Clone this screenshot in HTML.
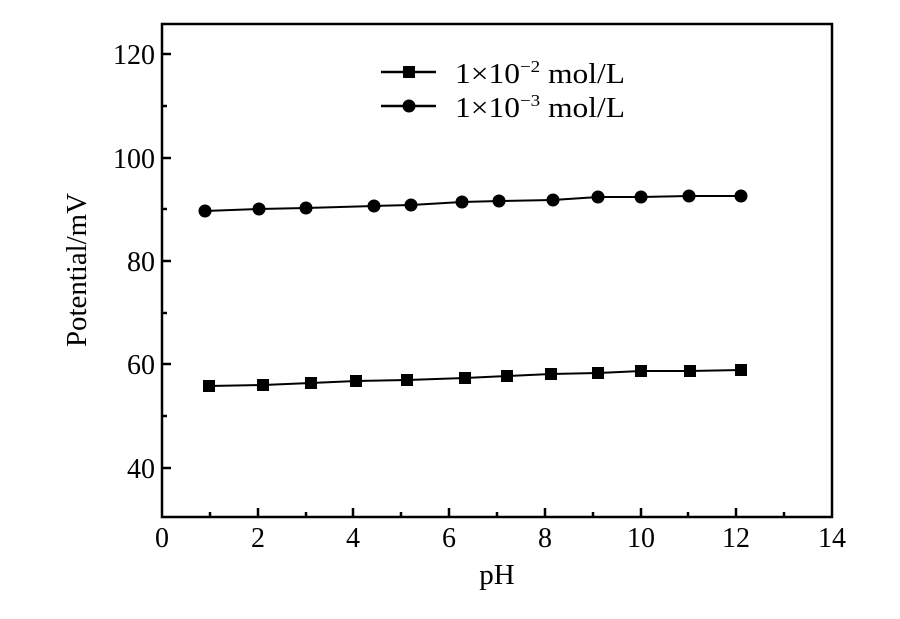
<!DOCTYPE html>
<html><head><meta charset="utf-8"><style>body{margin:0;background:#fff}svg{display:block}</style></head><body>
<svg width="900" height="619" viewBox="0 0 900 619" xmlns="http://www.w3.org/2000/svg" font-family="'Liberation Serif',serif" fill="#000">
<rect x="162" y="24" width="670" height="493" fill="none" stroke="#000" stroke-width="2.5"/>
<g stroke="#000" stroke-width="2.5">
<line x1="162" y1="468" x2="171" y2="468"/><line x1="162" y1="416" x2="167" y2="416"/>
<line x1="162" y1="364" x2="171" y2="364"/><line x1="162" y1="313" x2="167" y2="313"/>
<line x1="162" y1="261" x2="171" y2="261"/><line x1="162" y1="209" x2="167" y2="209"/>
<line x1="162" y1="158" x2="171" y2="158"/><line x1="162" y1="106" x2="167" y2="106"/>
<line x1="162" y1="54" x2="171" y2="54"/>
<line x1="210" y1="517" x2="210" y2="512"/><line x1="258" y1="517" x2="258" y2="508"/>
<line x1="306" y1="517" x2="306" y2="512"/><line x1="353" y1="517" x2="353" y2="508"/>
<line x1="401" y1="517" x2="401" y2="512"/><line x1="449" y1="517" x2="449" y2="508"/>
<line x1="497" y1="517" x2="497" y2="512"/><line x1="545" y1="517" x2="545" y2="508"/>
<line x1="593" y1="517" x2="593" y2="512"/><line x1="641" y1="517" x2="641" y2="508"/>
<line x1="688" y1="517" x2="688" y2="512"/><line x1="736" y1="517" x2="736" y2="508"/>
<line x1="784" y1="517" x2="784" y2="512"/>
</g>
<g font-size="28" text-anchor="end">
<text x="155" y="478">40</text><text x="155" y="374">60</text><text x="155" y="271">80</text><text x="155" y="168">100</text><text x="155" y="64">120</text>
</g>
<g font-size="28" text-anchor="middle">
<text x="162" y="547">0</text><text x="258" y="547">2</text><text x="353" y="547">4</text><text x="449" y="547">6</text><text x="545" y="547">8</text><text x="641" y="547">10</text><text x="736" y="547">12</text><text x="832" y="547">14</text>
<text x="497" y="584" font-size="29">pH</text>
<text transform="translate(86,270) rotate(-90)" font-size="29" textLength="154" lengthAdjust="spacingAndGlyphs">Potential/mV</text>
</g>
<polyline fill="none" stroke="#000" stroke-width="2" points="209,386 263,385 311,383 356,381 407,380 465,378 507,376 551,374 598,373 641,371 690,371 741,370"/>
<g>
<rect x="203" y="380" width="12" height="12"/><rect x="257" y="379" width="12" height="12"/><rect x="305" y="377" width="12" height="12"/><rect x="350" y="375" width="12" height="12"/><rect x="401" y="374" width="12" height="12"/><rect x="459" y="372" width="12" height="12"/><rect x="501" y="370" width="12" height="12"/><rect x="545" y="368" width="12" height="12"/><rect x="592" y="367" width="12" height="12"/><rect x="635" y="365" width="12" height="12"/><rect x="684" y="365" width="12" height="12"/><rect x="735" y="364" width="12" height="12"/>
</g>
<polyline fill="none" stroke="#000" stroke-width="2" points="205,211 259,209 306,208 374,206 411,205 462,202 499,201 553,200 598,197 641,197 689,196 741,196"/>
<g>
<circle cx="205" cy="211" r="6.5"/><circle cx="259" cy="209" r="6.5"/><circle cx="306" cy="208" r="6.5"/><circle cx="374" cy="206" r="6.5"/><circle cx="411" cy="205" r="6.5"/><circle cx="462" cy="202" r="6.5"/><circle cx="499" cy="201" r="6.5"/><circle cx="553" cy="200" r="6.5"/><circle cx="598" cy="197" r="6.5"/><circle cx="641" cy="197" r="6.5"/><circle cx="689" cy="196" r="6.5"/><circle cx="741" cy="196" r="6.5"/>
</g>
<line x1="381" y1="72" x2="436" y2="72" stroke="#000" stroke-width="2.5"/><rect x="403" y="66" width="12" height="12"/>
<line x1="381" y1="106" x2="436" y2="106" stroke="#000" stroke-width="2.5"/><circle cx="409" cy="106" r="6.5"/>
<text x="455" y="83" font-size="28" textLength="170" lengthAdjust="spacingAndGlyphs">1×10<tspan font-size="17" dy="-11">−2</tspan><tspan dy="11"> mol/L</tspan></text>
<text x="455" y="117" font-size="28" textLength="170" lengthAdjust="spacingAndGlyphs">1×10<tspan font-size="17" dy="-11">−3</tspan><tspan dy="11"> mol/L</tspan></text>
</svg>
</body></html>
